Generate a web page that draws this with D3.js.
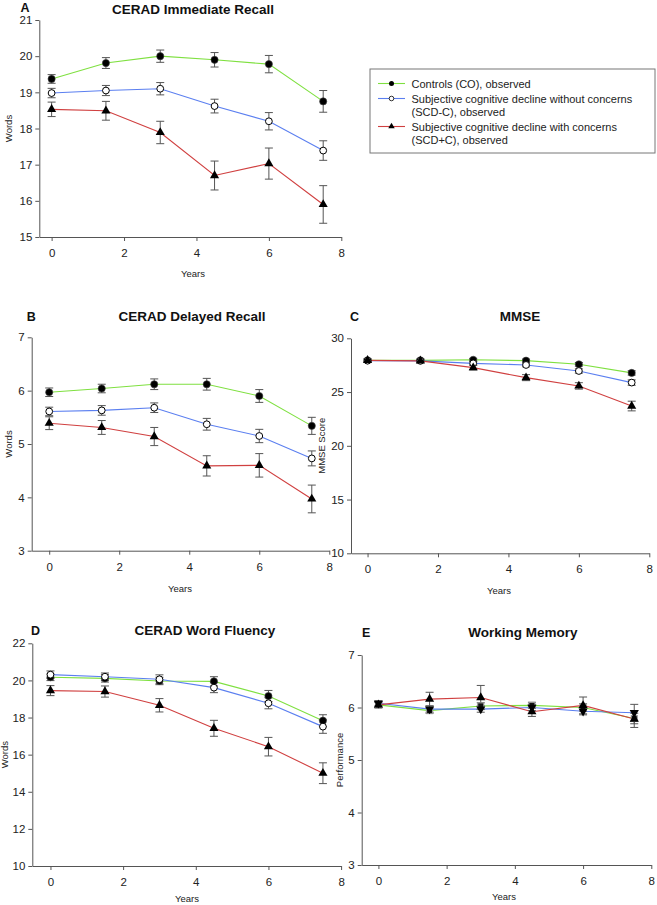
<!DOCTYPE html>
<html><head><meta charset="utf-8">
<script src="https://cdn.jsdelivr.net/npm/d3@7"></script>
<style>
body{margin:0;background:#fff;}
svg{display:block;font-family:"Liberation Sans",Arial,sans-serif;}
</style></head>
<body><svg id="c" width="657" height="905"></svg>
<script>
const years = [0, 1.5, 3, 4.5, 6, 7.5];
const xTicks = [0, 2, 4, 6, 8];
const seriesNames = ["Controls (CO), observed", "Subjective cognitive decline without concerns|(SCD-C), observed", "Subjective cognitive decline with concerns|(SCD+C), observed"];
const seriesColors = ["#7fe040", "#5b7ff0", "#d04040"];

// A: CERAD Immediate Recall
const immCO = [19.37, 19.81, 20.0, 19.9, 19.78, 18.75];
const immCOErr = [0.12, 0.15, 0.17, 0.2, 0.24, 0.3];
const immSCDm = [18.98, 19.05, 19.10, 18.62, 18.20, 17.39];
const immSCDmErr = [0.13, 0.14, 0.17, 0.19, 0.24, 0.27];
const immSCDp = [18.53, 18.49, 17.89, 16.70, 17.03, 15.90];
const immSCDpErr = [0.2, 0.26, 0.31, 0.4, 0.43, 0.52];
const immTicks = [15, 16, 17, 18, 19, 20, 21];
// B: CERAD Delayed Recall
const delCO = [5.97, 6.04, 6.12, 6.12, 5.9, 5.34];
const delCOErr = [0.08, 0.08, 0.1, 0.11, 0.12, 0.16];
const delSCDm = [5.61, 5.63, 5.68, 5.37, 5.15, 4.73];
const delSCDmErr = [0.08, 0.09, 0.09, 0.11, 0.125, 0.14];
const delSCDp = [5.39, 5.31, 5.14, 4.59, 4.6, 3.97];
const delSCDpErr = [0.12, 0.13, 0.17, 0.19, 0.22, 0.26];
const delTicks = [3, 4, 5, 6, 7];
// C: MMSE
const mmseCO = [27.95, 27.95, 28.0, 27.92, 27.58, 26.78];
const mmseCOErr = [0.12, 0.12, 0.13, 0.14, 0.17, 0.2];
const mmseSCDm = [27.92, 27.9, 27.67, 27.52, 26.96, 25.88];
const mmseSCDmErr = [0.12, 0.13, 0.15, 0.17, 0.2, 0.25];
const mmseSCDp = [27.95, 27.9, 27.27, 26.34, 25.57, 23.7];
const mmseSCDpErr = [0.15, 0.17, 0.22, 0.28, 0.3, 0.45];
const mmseTicks = [10, 15, 20, 25, 30];
// D: CERAD Word Fluency
const fluCO = [20.17, 20.11, 19.97, 19.95, 19.16, 17.83];
const fluCOErr = [0.18, 0.2, 0.2, 0.25, 0.3, 0.32];
const fluSCDm = [20.31, 20.2, 20.06, 19.61, 18.77, 17.51];
const fluSCDmErr = [0.2, 0.2, 0.24, 0.27, 0.3, 0.36];
const fluSCDp = [19.45, 19.4, 18.66, 17.42, 16.43, 15.0];
const fluSCDpErr = [0.27, 0.3, 0.36, 0.43, 0.5, 0.56];
const fluTicks = [10, 12, 14, 16, 18, 20, 22];
// E: Working Memory
const wmCO = [6.05, 5.94, 6.03, 6.04, 6.0, 5.79];
const wmCOErr = [0.05, 0.05, 0.06, 0.06, 0.07, 0.1];
const wmSCDm = [6.08, 5.97, 5.97, 6.0, 5.93, 5.9];
const wmSCDmErr = [0.05, 0.06, 0.06, 0.06, 0.07, 0.16];
const wmSCDp = [6.05, 6.16, 6.19, 5.92, 6.04, 5.78];
const wmSCDpErr = [0.06, 0.13, 0.23, 0.09, 0.16, 0.16];
const wmTicks = [3, 4, 5, 6, 7];

const panels = [
  {letter:"A", title:"CERAD Immediate Recall", ylab:"Words", xd:[-0.34,8], xr:[39.3,341.3], yd:[15,21], yr:[237,20], yt:immTicks,
   titleX:193, titleY:14, letterY:11.5, letterX:20.5, ylabX:12, xlabY:277, xlabX:193,
   series:[[immCO,immCOErr],[immSCDm,immSCDmErr],[immSCDp,immSCDpErr]], sym:["circle","open","tri"]},
  {letter:"B", title:"CERAD Delayed Recall", ylab:"Words", xd:[-0.5,8], xr:[31.7,329.3], yd:[3,7], yr:[550.7,337.3], yt:delTicks,
   titleX:192, titleY:320.5, letterY:320.5, letterX:26.7, ylabX:12, xlabY:591.5, xlabX:180,
   series:[[delCO,delCOErr],[delSCDm,delSCDmErr],[delSCDp,delSCDpErr]], sym:["circle","open","tri"]},
  {letter:"C", title:"MMSE", ylab:"MMSE Score", xd:[-0.47,8], xr:[351,649.3], yd:[10,30], yr:[553.3,338.3], yt:mmseTicks,
   titleX:520, titleY:320.5, letterY:320.5, letterX:350, ylabX:325, xlabY:594, xlabX:499,
   series:[[mmseCO,mmseCOErr],[mmseSCDm,mmseSCDmErr],[mmseSCDp,mmseSCDpErr]], sym:["circle","open","tri"]},
  {letter:"D", title:"CERAD Word Fluency", ylab:"Words", xd:[-0.5,8], xr:[32.3,341.1], yd:[10,22], yr:[866,643.3], yt:fluTicks,
   titleX:205, titleY:635, letterY:635, letterX:31, ylabX:8, xlabY:901.5, xlabX:187,
   series:[[fluCO,fluCOErr],[fluSCDm,fluSCDmErr],[fluSCDp,fluSCDpErr]], sym:["circle","open","tri"]},
  {letter:"E", title:"Working Memory", ylab:"Performance", xd:[-0.49,8], xr:[361.7,651.3], yd:[3,7], yr:[865,655], yt:wmTicks,
   titleX:523, titleY:637, letterY:637, letterX:362, ylabX:343, xlabY:900, xlabX:504,
   series:[[wmCO,wmCOErr],[wmSCDm,wmSCDmErr],[wmSCDp,wmSCDpErr]], sym:["square","tridown","tri"]}
];

const svg = d3.select("#c");
const axisCol = "#555";

function drawMarker(g, sym, x, y){
  if(sym==="circle") g.append("circle").attr("cx",x).attr("cy",y).attr("r",3.6).attr("fill","#000").attr("stroke","#444").attr("stroke-width",0.6);
  else if(sym==="open") g.append("circle").attr("cx",x).attr("cy",y).attr("r",3.4).attr("fill","#fff").attr("stroke","#000").attr("stroke-width",1);
  else if(sym==="tri") g.append("path").attr("d",d3.symbol(d3.symbolTriangle,36)()).attr("transform",`translate(${x},${y})`).attr("fill","#000");
  else if(sym==="tridown") g.append("path").attr("d",d3.symbol(d3.symbolTriangle,36)()).attr("transform",`translate(${x},${y}) rotate(180)`).attr("fill","#000");
  else if(sym==="square") g.append("rect").attr("x",x-3).attr("y",y-3).attr("width",6).attr("height",6).attr("fill","#111").attr("stroke","#999").attr("stroke-width",1);
}

panels.forEach(p=>{
  const x = d3.scaleLinear().domain(p.xd).range(p.xr);
  const y = d3.scaleLinear().domain(p.yd).range(p.yr);
  const g = svg.append("g");
  const xa = g.append("g").attr("transform",`translate(0,${p.yr[0]})`)
    .call(d3.axisBottom(x).tickValues(xTicks).tickFormat(d3.format("d")).tickSize(4).tickSizeOuter(0).tickPadding(8));
  const ya = g.append("g").attr("transform",`translate(${p.xr[0]},0)`)
    .call(d3.axisLeft(y).tickValues(p.yt).tickFormat(d3.format("d")).tickSize(4).tickSizeOuter(0).tickPadding(3));
  [xa,ya].forEach(a=>{
    a.selectAll("path,line").attr("stroke",axisCol).attr("stroke-width",1);
    a.selectAll("text").attr("font-size","11.5px").attr("fill","#222").attr("font-family","Liberation Sans, Arial, sans-serif");
  });
  g.append("text").attr("x",p.titleX).attr("y",p.titleY).attr("text-anchor","middle").attr("font-weight","bold").attr("font-size","13.5px").attr("fill","#111").text(p.title);
  g.append("text").attr("x",p.letterX).attr("y",p.letterY).attr("font-weight","bold").attr("font-size","12.5px").attr("fill","#111").text(p.letter);
  g.append("text").attr("x",p.xlabX).attr("y",p.xlabY).attr("text-anchor","middle").attr("font-size","9.5px").attr("fill","#222").text("Years");
  const ymid = (p.yr[0]+p.yr[1])/2;
  g.append("text").attr("transform",`translate(${p.ylabX},${ymid}) rotate(-90)`).attr("text-anchor","middle").attr("font-size","9.5px").attr("fill","#222").text(p.ylab);
  const line = d3.line().x((d,i)=>x(years[i])).y(d=>y(d));
  p.series.forEach((s,k)=>{
    g.append("path").datum(s[0]).attr("d",line).attr("fill","none").attr("stroke",seriesColors[k]).attr("stroke-width",1.1);
  });
  p.series.forEach((s,k)=>{
    s[0].forEach((v,i)=>{
      const cx = x(years[i]), y1 = y(v+s[1][i]), y2 = y(v-s[1][i]);
      const eg = g.append("g").attr("stroke","#555").attr("stroke-width",1);
      eg.append("line").attr("x1",cx).attr("x2",cx).attr("y1",y1).attr("y2",y2);
      eg.append("line").attr("x1",cx-4).attr("x2",cx+4).attr("y1",y1).attr("y2",y1);
      eg.append("line").attr("x1",cx-4).attr("x2",cx+4).attr("y1",y2).attr("y2",y2);
    });
  });
  p.series.forEach((s,k)=>{
    s[0].forEach((v,i)=>drawMarker(g,p.sym[k],x(years[i]),y(v)));
  });
});

// legend
const lg = svg.append("g");
lg.append("rect").attr("x",370).attr("y",69).attr("width",285).attr("height",84).attr("fill","#fff").attr("stroke","#777").attr("stroke-width",1);
const rowsY = [[83.5],[98.5,112],[126.5,140]];
const syms = ["circle","open","tri"];
rowsY.forEach((ys,k)=>{
  const ly = ys[0];
  lg.append("line").attr("x1",378).attr("x2",405).attr("y1",ly).attr("y2",ly).attr("stroke",seriesColors[k]).attr("stroke-width",1.1);
  const m = lg.append("g");
  if(syms[k]==="circle") m.append("circle").attr("cx",391.5).attr("cy",ly).attr("r",2.5).attr("fill","#000");
  else if(syms[k]==="open") m.append("circle").attr("cx",391.5).attr("cy",ly).attr("r",2.3).attr("fill","#fff").attr("stroke","#000").attr("stroke-width",0.8);
  else m.append("path").attr("d",d3.symbol(d3.symbolTriangle,18)()).attr("transform",`translate(391.5,${ly})`).attr("fill","#000");
  seriesNames[k].split("|").forEach((t,j)=>{
    lg.append("text").attr("x",411.5).attr("y",ys[j]+4).attr("font-size","11px").attr("fill","#222").text(t);
  });
});
</script></body></html>
